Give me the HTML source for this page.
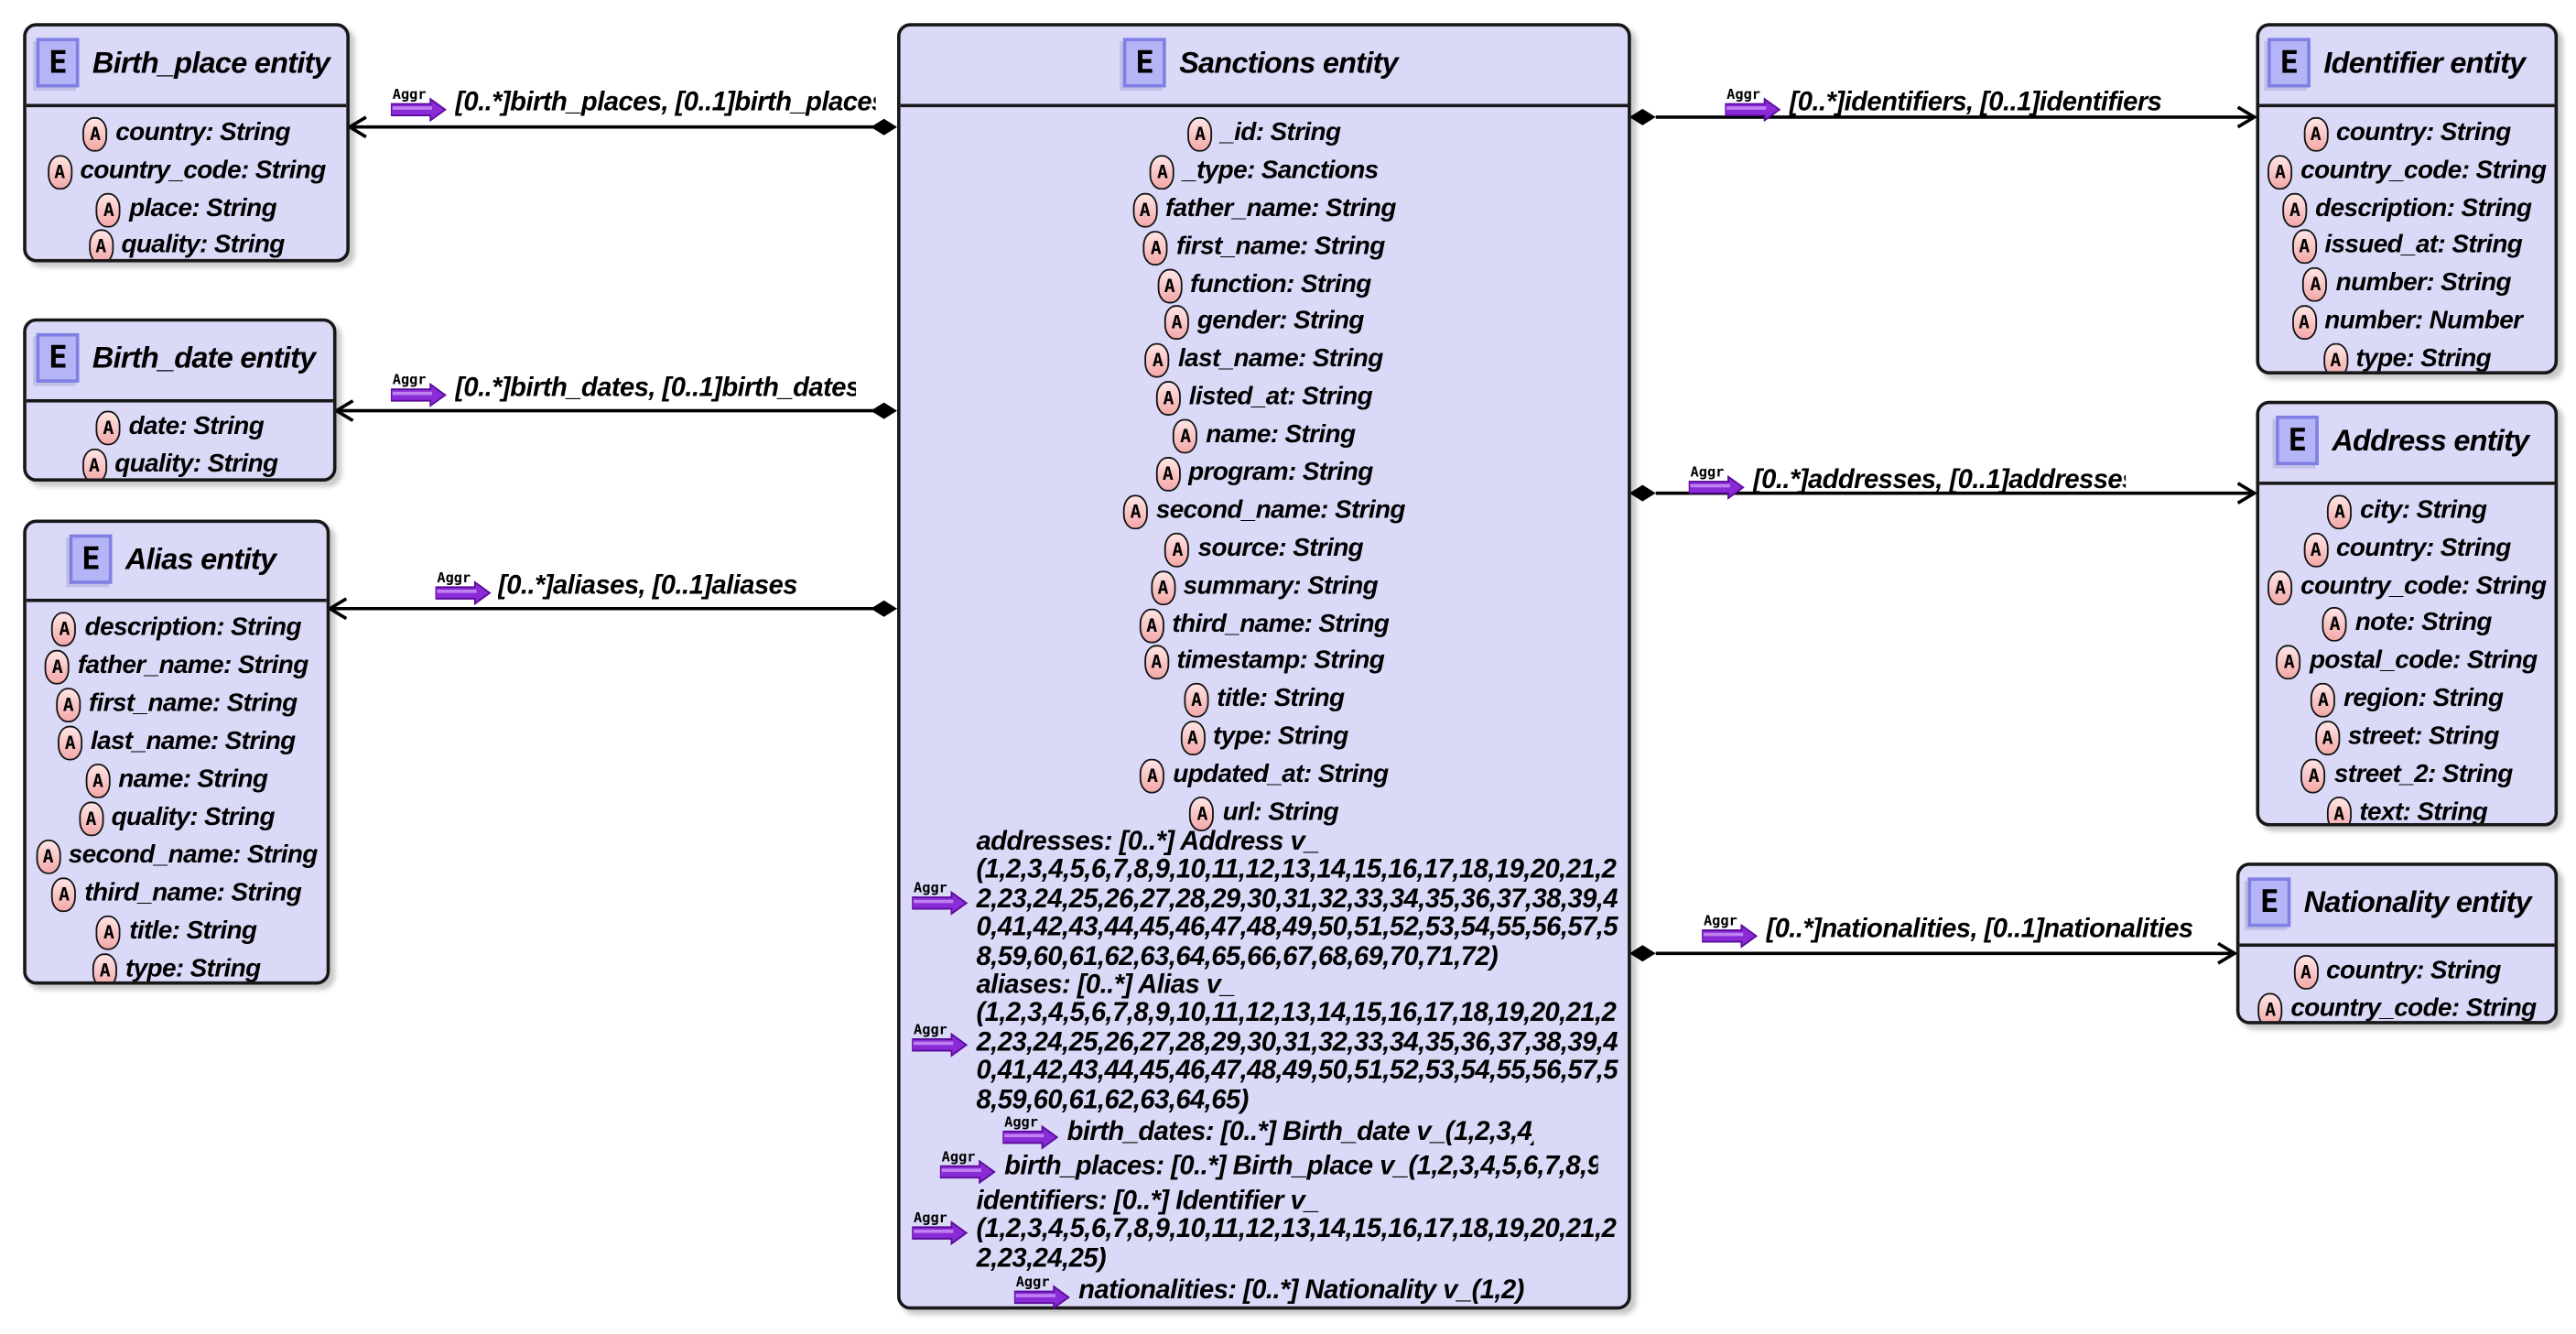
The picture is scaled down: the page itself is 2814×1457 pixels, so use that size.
<!DOCTYPE html>
<html><head><meta charset="utf-8">
<style>
html,body{margin:0;padding:0;background:#fff;}
body{width:2814px;height:1457px;overflow:hidden;position:relative;}
#w{position:absolute;left:0;top:0;width:1562px;height:809px;transform:scale(1.8015);transform-origin:0 0;font-family:"Liberation Sans",sans-serif;font-weight:bold;font-style:italic;color:#000;}
.b{position:absolute;background:#DADAF8;border:2px solid #181818;border-radius:8px;box-shadow:3px 3px 3px rgba(0,0,0,.22);overflow:hidden;box-sizing:border-box;}
.dv{position:absolute;left:0;right:0;height:0;border-top:2px solid #181818;}
.h{position:absolute;top:6px;height:32px;display:flex;align-items:center;white-space:nowrap;font-size:18px;letter-spacing:-0.4px;}
.e{display:inline-block;flex:none;width:22px;height:26px;background:#B4B4F6;border:2.5px solid #8080E4;box-shadow:-2px 2px 0 #c0c0e6;font-style:normal;font-family:"DejaVu Sans Mono",monospace;font-size:19px;line-height:26px;text-align:center;margin-right:8px;}
.r{position:absolute;left:0;right:0;height:22px;display:flex;justify-content:safe center;align-items:center;white-space:nowrap;overflow:hidden;font-size:15.5px;letter-spacing:-0.35px;}
.a{display:inline-block;flex:none;width:13px;height:19px;border:1.5px solid #111;border-radius:7px/9px;background:linear-gradient(#FFE4E4,#F4A8A8);font-style:normal;font-family:"DejaVu Sans Mono",monospace;font-size:11px;line-height:19px;text-align:center;margin-right:5px;}
.t{position:absolute;white-space:nowrap;overflow:hidden;font-size:16.2px;letter-spacing:-0.3px;line-height:17.4px;}
.ag{position:absolute;width:34px;height:22px;}
</style></head><body><div id="w">

<svg width="1562" height="809" style="position:absolute;left:0;top:0">
<defs>
<g id="dl"><polygon points="0,0 8,-5 16,0 8,5" fill="#000"/></g>
</defs>
<g stroke="#000" stroke-width="2" fill="none">
<line x1="212" y1="77" x2="530" y2="77"/><polyline points="222,71 212,77 222,83"/>
<line x1="204" y1="249" x2="530" y2="249"/><polyline points="214,243 204,249 214,255"/>
<line x1="200" y1="369" x2="530" y2="369"/><polyline points="210,363 200,369 210,375"/>
<line x1="1004" y1="71" x2="1367" y2="71"/><polyline points="1357,65 1367,71 1357,77"/>
<line x1="1004" y1="299" x2="1367" y2="299"/><polyline points="1357,293 1367,299 1357,305"/>
<line x1="1004" y1="578" x2="1355" y2="578"/><polyline points="1345,572 1355,578 1345,584"/>
</g>
<use href="#dl" x="528" y="77"/><use href="#dl" x="528" y="249"/><use href="#dl" x="528" y="369"/>
<use href="#dl" x="988" y="71"/><use href="#dl" x="988" y="299"/><use href="#dl" x="988" y="578"/>
</svg>

<svg width="0" height="0" style="position:absolute"><defs>
<g id="ag"><text x="1" y="8" font-family="DejaVu Sans Mono,monospace" font-size="8.5" font-style="normal" font-weight="bold" fill="#000">Aggr</text>
<polygon points="0,11 24,11 24,8 33,14.5 24,21 24,18 0,18" fill="#8A2BD8" stroke="#5A0a9a" stroke-width="1"/><rect x="1" y="12.5" width="24" height="2" fill="#C080F0"/></g>
</defs></svg>
<svg class="ag" style="left:237px;top:52px"><use href="#ag"/></svg>
<svg class="ag" style="left:237px;top:225px"><use href="#ag"/></svg>
<svg class="ag" style="left:264px;top:345px"><use href="#ag"/></svg>
<svg class="ag" style="left:1046px;top:52px"><use href="#ag"/></svg>
<svg class="ag" style="left:1024px;top:281px"><use href="#ag"/></svg>
<svg class="ag" style="left:1032px;top:553px"><use href="#ag"/></svg>
<div class="t" style="left:276px;top:54px;width:255px">[0..*]birth_places, [0..1]birth_places</div>
<div class="t" style="left:276px;top:227px;width:243px">[0..*]birth_dates, [0..1]birth_dates</div>
<div class="t" style="left:302px;top:347px;width:190px">[0..*]aliases, [0..1]aliases</div>
<div class="t" style="left:1085px;top:54px;width:228px">[0..*]identifiers, [0..1]identifiers</div>
<div class="t" style="left:1063px;top:283px;width:226px">[0..*]addresses, [0..1]addresses</div>
<div class="t" style="left:1071px;top:555px;width:260px">[0..*]nationalities, [0..1]nationalities</div>

<div class="b" style="left:14px;top:14px;width:198px;height:145px">
<div class="h" style="left:6px"><span class="e">E</span>Birth_place entity</div>
<div class="dv" style="top:47px"></div>
<div class="r" style="top:54px"><i class="a">A</i>country: String</div>
<div class="r" style="top:77px"><i class="a">A</i>country_code: String</div>
<div class="r" style="top:100px"><i class="a">A</i>place: String</div>
<div class="r" style="top:122px"><i class="a">A</i>quality: String</div>
</div>

<div class="b" style="left:14px;top:193px;width:190px;height:99px">
<div class="h" style="left:6px"><span class="e">E</span>Birth_date entity</div>
<div class="dv" style="top:47px"></div>
<div class="r" style="top:53px"><i class="a">A</i>date: String</div>
<div class="r" style="top:76px"><i class="a">A</i>quality: String</div>
</div>

<div class="b" style="left:14px;top:315px;width:186px;height:282px">
<div class="h" style="left:26px"><span class="e">E</span>Alias entity</div>
<div class="dv" style="top:46px"></div>
<div class="r" style="top:53px"><i class="a">A</i>description: String</div>
<div class="r" style="top:76px"><i class="a">A</i>father_name: String</div>
<div class="r" style="top:99px"><i class="a">A</i>first_name: String</div>
<div class="r" style="top:122px"><i class="a">A</i>last_name: String</div>
<div class="r" style="top:145px"><i class="a">A</i>name: String</div>
<div class="r" style="top:168px"><i class="a">A</i>quality: String</div>
<div class="r" style="top:191px"><i class="a">A</i>second_name: String</div>
<div class="r" style="top:214px"><i class="a">A</i>third_name: String</div>
<div class="r" style="top:237px"><i class="a">A</i>title: String</div>
<div class="r" style="top:260px"><i class="a">A</i>type: String</div>
</div>

<div class="b" style="left:544px;top:14px;width:445px;height:780px">
<div class="h" style="left:135px"><span class="e">E</span>Sanctions entity</div>
<div class="dv" style="top:47px"></div>
<div class="r" style="top:54px"><i class="a">A</i>_id: String</div>
<div class="r" style="top:77px"><i class="a">A</i>_type: Sanctions</div>
<div class="r" style="top:100px"><i class="a">A</i>father_name: String</div>
<div class="r" style="top:123px"><i class="a">A</i>first_name: String</div>
<div class="r" style="top:146px"><i class="a">A</i>function: String</div>
<div class="r" style="top:168px"><i class="a">A</i>gender: String</div>
<div class="r" style="top:191px"><i class="a">A</i>last_name: String</div>
<div class="r" style="top:214px"><i class="a">A</i>listed_at: String</div>
<div class="r" style="top:237px"><i class="a">A</i>name: String</div>
<div class="r" style="top:260px"><i class="a">A</i>program: String</div>
<div class="r" style="top:283px"><i class="a">A</i>second_name: String</div>
<div class="r" style="top:306px"><i class="a">A</i>source: String</div>
<div class="r" style="top:329px"><i class="a">A</i>summary: String</div>
<div class="r" style="top:352px"><i class="a">A</i>third_name: String</div>
<div class="r" style="top:374px"><i class="a">A</i>timestamp: String</div>
<div class="r" style="top:397px"><i class="a">A</i>title: String</div>
<div class="r" style="top:420px"><i class="a">A</i>type: String</div>
<div class="r" style="top:443px"><i class="a">A</i>updated_at: String</div>
<div class="r" style="top:466px"><i class="a">A</i>url: String</div>
</div>
<svg class="ag" style="left:553px;top:533px"><use href="#ag"/></svg>
<svg class="ag" style="left:553px;top:619px"><use href="#ag"/></svg>
<svg class="ag" style="left:608px;top:675px"><use href="#ag"/></svg>
<svg class="ag" style="left:570px;top:696px"><use href="#ag"/></svg>
<svg class="ag" style="left:553px;top:733px"><use href="#ag"/></svg>
<svg class="ag" style="left:615px;top:772px"><use href="#ag"/></svg>
<div class="t" style="left:592px;top:502px;width:392px">addresses: [0..*] Address v_<br>(1,2,3,4,5,6,7,8,9,10,11,12,13,14,15,16,17,18,19,20,21,2<br>2,23,24,25,26,27,28,29,30,31,32,33,34,35,36,37,38,39,4<br>0,41,42,43,44,45,46,47,48,49,50,51,52,53,54,55,56,57,5<br>8,59,60,61,62,63,64,65,66,67,68,69,70,71,72)</div>
<div class="t" style="left:592px;top:589px;width:392px">aliases: [0..*] Alias v_<br>(1,2,3,4,5,6,7,8,9,10,11,12,13,14,15,16,17,18,19,20,21,2<br>2,23,24,25,26,27,28,29,30,31,32,33,34,35,36,37,38,39,4<br>0,41,42,43,44,45,46,47,48,49,50,51,52,53,54,55,56,57,5<br>8,59,60,61,62,63,64,65)</div>
<div class="t" style="left:647px;top:678px;width:283px">birth_dates: [0..*] Birth_date v_(1,2,3,4)</div>
<div class="t" style="left:609px;top:699px;width:360px">birth_places: [0..*] Birth_place v_(1,2,3,4,5,6,7,8,9)</div>
<div class="t" style="left:592px;top:720px;width:392px">identifiers: [0..*] Identifier v_<br>(1,2,3,4,5,6,7,8,9,10,11,12,13,14,15,16,17,18,19,20,21,2<br>2,23,24,25)</div>
<div class="t" style="left:654px;top:774px;width:270px">nationalities: [0..*] Nationality v_(1,2)</div>

<div class="b" style="left:1368px;top:14px;width:183px;height:213px">
<div class="h" style="left:5px"><span class="e">E</span>Identifier entity</div>
<div class="dv" style="top:47px"></div>
<div class="r" style="top:54px"><i class="a">A</i>country: String</div>
<div class="r" style="top:77px"><i class="a">A</i>country_code: String</div>
<div class="r" style="top:100px"><i class="a">A</i>description: String</div>
<div class="r" style="top:122px"><i class="a">A</i>issued_at: String</div>
<div class="r" style="top:145px"><i class="a">A</i>number: String</div>
<div class="r" style="top:168px"><i class="a">A</i>number: Number</div>
<div class="r" style="top:191px"><i class="a">A</i>type: String</div>
</div>

<div class="b" style="left:1368px;top:243px;width:183px;height:258px">
<div class="h" style="left:10px"><span class="e">E</span>Address entity</div>
<div class="dv" style="top:47px"></div>
<div class="r" style="top:54px"><i class="a">A</i>city: String</div>
<div class="r" style="top:77px"><i class="a">A</i>country: String</div>
<div class="r" style="top:100px"><i class="a">A</i>country_code: String</div>
<div class="r" style="top:122px"><i class="a">A</i>note: String</div>
<div class="r" style="top:145px"><i class="a">A</i>postal_code: String</div>
<div class="r" style="top:168px"><i class="a">A</i>region: String</div>
<div class="r" style="top:191px"><i class="a">A</i>street: String</div>
<div class="r" style="top:214px"><i class="a">A</i>street_2: String</div>
<div class="r" style="top:237px"><i class="a">A</i>text: String</div>
</div>

<div class="b" style="left:1356px;top:523px;width:195px;height:98px">
<div class="h" style="left:5px"><span class="e">E</span>Nationality entity</div>
<div class="dv" style="top:47px"></div>
<div class="r" style="top:53px"><i class="a">A</i>country: String</div>
<div class="r" style="top:76px"><i class="a">A</i>country_code: String</div>
</div>

</div></body></html>
